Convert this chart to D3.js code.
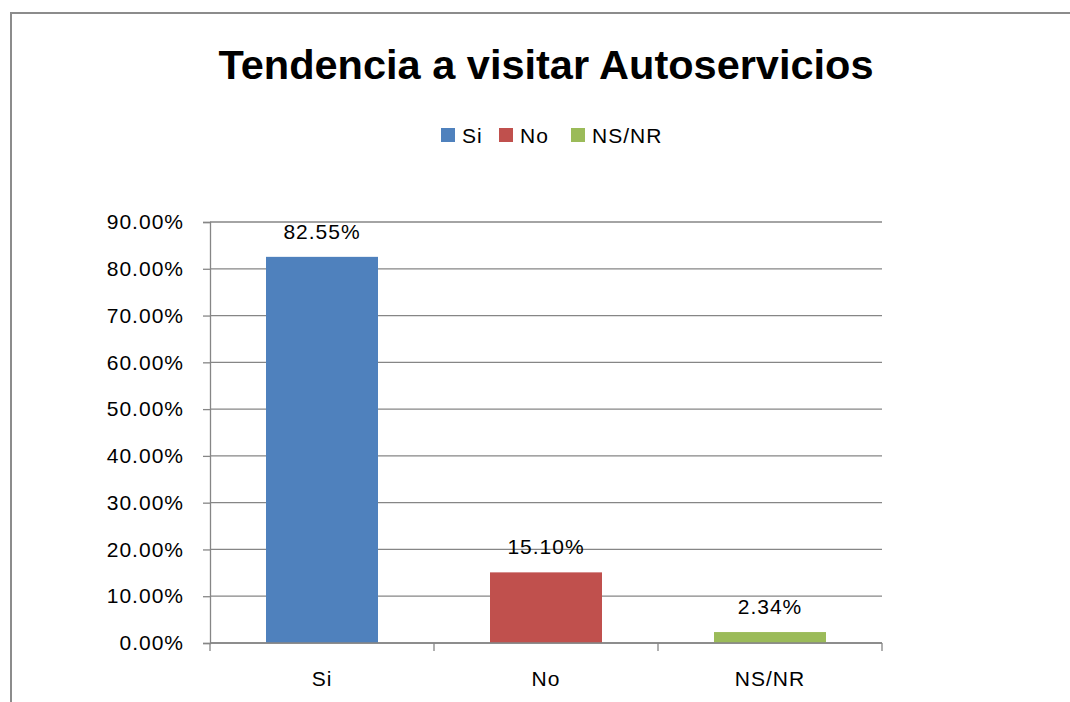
<!DOCTYPE html>
<html>
<head>
<meta charset="utf-8">
<script src="https://cdn.jsdelivr.net/npm/d3@7"></script>
<style>
  body { margin: 0; background: #fff; }
  svg text { font-family: "Liberation Sans", Arial, sans-serif; fill: #000; }
  .lbl { font-size: 21px; letter-spacing: 1px; }
</style>
</head>
<body>
<div id="chart"></div>
<script>
// chart data
const categories = ["Si", "No", "NS/NR"];
const values = [82.55, 15.10, 2.34];
const colors = ["#4F81BD", "#C0504D", "#9BBB59"];
const yTicks = [0, 10, 20, 30, 40, 50, 60, 70, 80, 90];

const W = 1070, H = 702;
const margin = { top: 222, right: 188, bottom: 59, left: 210 },
  width = W - margin.left - margin.right,
  height = H - margin.top - margin.bottom;

const svg = d3.select("#chart")
  .append("svg")
  .attr("width", W)
  .attr("height", H);

// outer chart border (cut off on right and bottom like the screenshot)
svg.append("rect")
  .attr("x", 11).attr("y", 13)
  .attr("width", W + 50).attr("height", H + 50)
  .attr("fill", "none")
  .attr("stroke", "#8c8c8c")
  .attr("stroke-width", 2);

// title
svg.append("text")
  .attr("x", 546)
  .attr("y", 79)
  .attr("text-anchor", "middle")
  .style("font-size", "41.5px")
  .style("font-weight", "bold")
  .text("Tendencia a visitar Autoservicios");

// legend
const legendX = [441, 499, 571];
const legend = svg.append("g");
categories.forEach((c, i) => {
  legend.append("rect")
    .attr("x", legendX[i]).attr("y", 128)
    .attr("width", 14).attr("height", 14)
    .attr("fill", colors[i]);
  legend.append("text")
    .attr("class", "lbl")
    .attr("x", legendX[i] + 21)
    .attr("y", 143)
    .text(c);
});

const g = svg.append("g")
  .attr("transform", `translate(${margin.left},${margin.top})`);

const x = d3.scaleBand()
  .domain(categories)
  .range([0, width])
  .paddingInner(0)
  .paddingOuter(0);

const y = d3.scaleLinear()
  .domain([0, 90])
  .range([height, 0]);

// gridlines
g.selectAll(".grid")
  .data(yTicks)
  .enter()
  .append("line")
  .attr("x1", 0).attr("x2", width)
  .attr("y1", d => y(d)).attr("y2", d => y(d))
  .attr("stroke", "#868686")
  .attr("stroke-width", 1.3);

// y axis
const yAxis = g.append("g")
  .call(d3.axisLeft(y).tickValues(yTicks).tickSize(7).tickPadding(19)
    .tickFormat(d => d.toFixed(2) + "%"));
yAxis.selectAll("path, line").attr("stroke", "#868686").attr("stroke-width", 1.3);
yAxis.selectAll("text")
  .attr("class", "lbl")
  .attr("fill", "#000")
  .style("font-family", "'Liberation Sans', Arial, sans-serif");

// bars
g.selectAll(".bar")
  .data(values)
  .enter()
  .append("rect")
  .attr("class", "bar")
  .attr("x", (d, i) => x(categories[i]) + x.bandwidth() * 0.25)
  .attr("width", x.bandwidth() * 0.5)
  .attr("y", d => y(d))
  .attr("height", d => height - y(d))
  .attr("fill", (d, i) => colors[i]);

// value labels
g.selectAll(".val")
  .data(values)
  .enter()
  .append("text")
  .attr("class", "lbl")
  .attr("x", (d, i) => x(categories[i]) + x.bandwidth() / 2)
  .attr("y", d => y(d) - 18)
  .attr("text-anchor", "middle")
  .text(d => d.toFixed(2) + "%");

// x axis with ticks between categories
const xAxis = g.append("g")
  .attr("transform", `translate(0,${height})`);
xAxis.append("line")
  .attr("x1", 0).attr("x2", width)
  .attr("stroke", "#868686").attr("stroke-width", 1.3);
xAxis.selectAll(".tick")
  .data(d3.range(categories.length + 1))
  .enter()
  .append("line")
  .attr("x1", i => i * x.step()).attr("x2", i => i * x.step())
  .attr("y1", 0).attr("y2", 8)
  .attr("stroke", "#868686").attr("stroke-width", 1.3);
xAxis.selectAll(".lab")
  .data(categories)
  .enter()
  .append("text")
  .attr("class", "lbl")
  .attr("x", d => x(d) + x.bandwidth() / 2)
  .attr("y", 43)
  .attr("text-anchor", "middle")
  .text(d => d);
</script>
</body>
</html>
